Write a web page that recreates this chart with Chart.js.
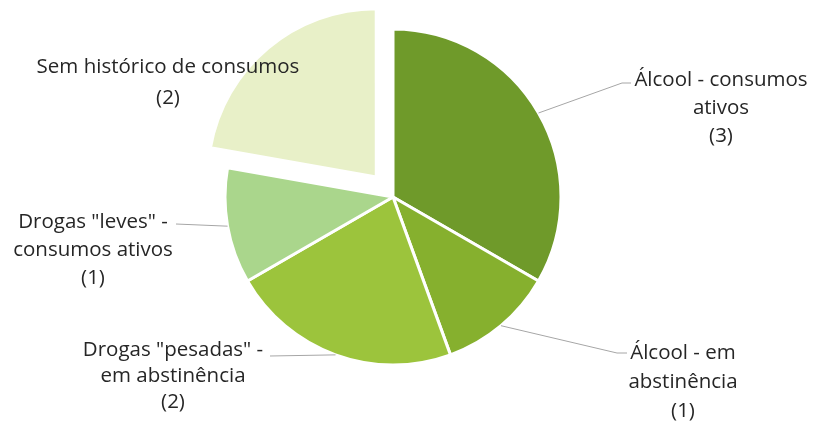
<!DOCTYPE html>
<html>
<head>
<meta charset="utf-8">
<script src="https://cdn.jsdelivr.net/npm/chart.js@4.4.0/dist/chart.umd.min.js"></script>
<style>
  html, body { margin: 0; padding: 0; background: #fff; }
  .chartBox { width: 813px; height: 423px; }
</style>
</head>
<body>
<div class="chartBox"><canvas id="pie" width="813" height="423"></canvas></div>
<script>
// data
const categories = [
  ["Álcool - consumos", "ativos"],
  ["Álcool - em", "abstinência"],
  ["Drogas \"pesadas\" -", "em abstinência"],
  ["Drogas \"leves\" -", "consumos ativos"],
  ["Sem histórico de consumos"]
];
const counts = [3, 1, 2, 1, 2];
const sliceColors = ["#6f9a2a", "#86b02e", "#9cc43c", "#aad68c", "#e8f0c8"];

// where Excel put each label (center of first line) and the elbow of the leader line
const labelLayout = [
  { x: 721, y: 80, lineGap: 28, elbow: [[622, 83], [631, 83]] },
  { x: 683, y: 353, lineGap: 29, elbow: [[617, 353], [627, 353]] },
  { x: 173, y: 350, lineGap: 26, elbow: [[270, 356]] },
  { x: 93, y: 222, lineGap: 28, elbow: [[176, 224]] },
  { x: 168, y: 67, lineGap: 31, elbow: null }
];

const pieLabels = {
  id: "pieLabels",
  afterDatasetsDraw(chart) {
    const ctx = chart.ctx;
    const meta = chart.getDatasetMeta(0);
    ctx.save();
    meta.data.forEach((arc, i) => {
      const lay = labelLayout[i];
      const p = arc.getProps(["x", "y", "startAngle", "endAngle", "outerRadius"], true);
      const mid = (p.startAngle + p.endAngle) / 2;
      if (lay.elbow) {
        const sx = p.x + Math.cos(mid) * p.outerRadius;
        const sy = p.y + Math.sin(mid) * p.outerRadius;
        ctx.beginPath();
        ctx.strokeStyle = "#a6a6a6";
        ctx.lineWidth = 1;
        ctx.moveTo(sx, sy);
        lay.elbow.forEach(pt => ctx.lineTo(pt[0], pt[1]));
        ctx.stroke();
      }
      const lines = categories[i].concat(["(" + counts[i] + ")"]);
      ctx.fillStyle = "#262626";
      ctx.font = "20.5px 'Open Sans'";
      ctx.textAlign = "center";
      ctx.textBaseline = "middle";
      lines.forEach((t, k) => ctx.fillText(t, lay.x, lay.y + k * lay.lineGap));
    });
    ctx.restore();
  }
};

const config = {
  type: "pie",
  data: {
    labels: categories.map(c => c.join(" ")),
    datasets: [{
      data: counts,
      backgroundColor: sliceColors,
      borderColor: "#ffffff",
      borderWidth: 3,
      // arc.draw moves a slice by offset/4
      offset: [0, 0, 0, 0, 104]
    }]
  },
  options: {
    responsive: false,
    animation: false,
    radius: 168,
    layout: { padding: { left: 0, right: 27, top: 0, bottom: 29 } },
    plugins: {
      legend: { display: false },
      tooltip: { enabled: false }
    }
  },
  plugins: [pieLabels]
};

new Chart(document.getElementById("pie"), config);
</script>
</body>
</html>
